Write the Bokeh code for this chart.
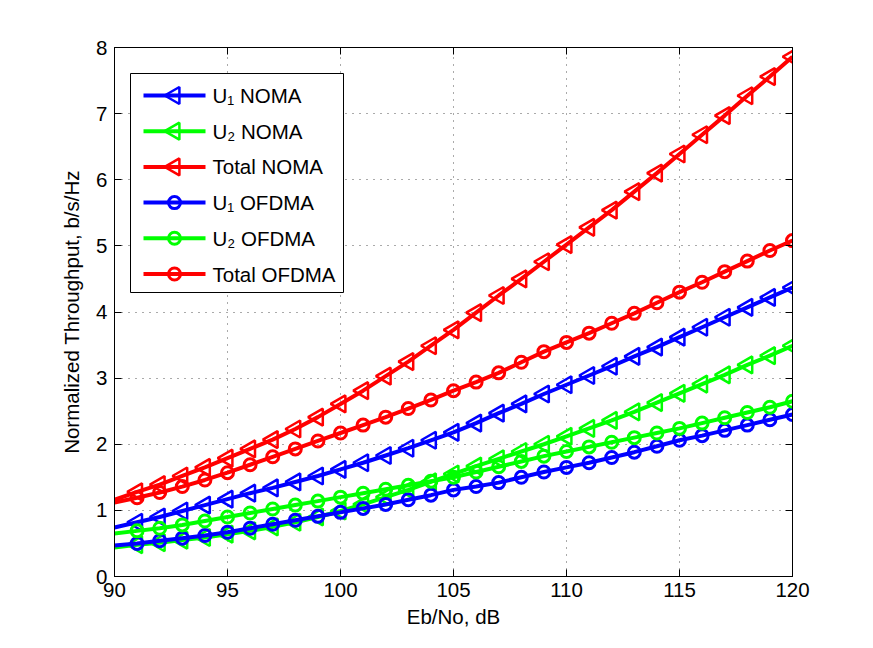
import numpy as np
from bokeh.plotting import figure
from bokeh.models import Range1d, LinearAxis, FixedTicker, BoxAnnotation, Label
from bokeh.embed import file_html
from bokeh.resources import INLINE

ebno = [90, 91, 92, 93, 94, 95, 96, 97, 98, 99, 100, 101, 102, 103, 104, 105,
        106, 107, 108, 109, 110, 111, 112, 113, 114, 115, 116, 117, 118, 119, 120]

u1_noma = [0.74, 0.82, 0.90, 0.99, 1.08, 1.17, 1.26, 1.34, 1.43, 1.52, 1.62,
           1.72, 1.83, 1.94, 2.06, 2.18, 2.32, 2.47, 2.61, 2.76, 2.90,
           3.04, 3.18, 3.33, 3.47, 3.62, 3.77, 3.92, 4.07, 4.22, 4.37]
u2_noma = [0.44, 0.48, 0.51, 0.55, 0.59, 0.64, 0.69, 0.75, 0.82, 0.90, 0.99,
           1.09, 1.20, 1.31, 1.43, 1.55, 1.67, 1.78, 1.89, 2.00, 2.12,
           2.24, 2.36, 2.49, 2.63, 2.77, 2.91, 3.05, 3.20, 3.34, 3.49]
total_noma = [1.16, 1.28, 1.39, 1.52, 1.65, 1.79, 1.93, 2.07, 2.23, 2.41, 2.61,
              2.81, 3.03, 3.25, 3.49, 3.73, 3.99, 4.25, 4.50, 4.76, 5.02,
              5.28, 5.54, 5.82, 6.10, 6.39, 6.68, 6.97, 7.27, 7.56, 7.86]
u1_ofdma = [0.47, 0.50, 0.54, 0.58, 0.62, 0.67, 0.73, 0.79, 0.85, 0.91, 0.97,
            1.03, 1.09, 1.16, 1.23, 1.31, 1.36, 1.42, 1.50, 1.58, 1.65,
            1.72, 1.80, 1.88, 1.97, 2.06, 2.13, 2.21, 2.29, 2.37, 2.45]
u2_ofdma = [0.65, 0.69, 0.73, 0.78, 0.84, 0.90, 0.96, 1.02, 1.08, 1.14, 1.20,
            1.26, 1.32, 1.38, 1.44, 1.50, 1.58, 1.66, 1.74, 1.82, 1.89,
            1.96, 2.03, 2.10, 2.17, 2.24, 2.32, 2.40, 2.48, 2.56, 2.65]
total_ofdma = [1.12, 1.19, 1.27, 1.36, 1.46, 1.57, 1.69, 1.81, 1.93, 2.05, 2.17,
               2.29, 2.41, 2.54, 2.67, 2.81, 2.94, 3.08, 3.24, 3.40, 3.54,
               3.68, 3.83, 3.98, 4.14, 4.30, 4.45, 4.61, 4.77, 4.93, 5.08]

labels = ["U\u2081 NOMA", "U\u2082 NOMA", "Total NOMA",
          "U\u2081 OFDMA", "U\u2082 OFDMA", "Total OFDMA"]
values = [u1_noma, u2_noma, total_noma, u1_ofdma, u2_ofdma, total_ofdma]
colors = ["#0000FF", "#00FF00", "#FF0000", "#0000FF", "#00FF00", "#FF0000"]
kinds = ["tri", "tri", "tri", "circ", "circ", "circ"]

x_ticks = [90, 95, 100, 105, 110, 115, 120]
y_ticks = [0, 1, 2, 3, 4, 5, 6, 7, 8]

FONT = "Liberation Sans"
FS = "20.5px"

W, H = 873, 648
BL, BR, BT, BB = 114, 81, 47, 72
X0, X1, Y0, Y1 = 90, 120, 0, 8

p = figure(width=W, height=H, x_range=Range1d(X0, X1), y_range=Range1d(Y0, Y1),
           output_backend="svg", toolbar_location=None,
           min_border_left=BL, min_border_right=BR, min_border_top=BT, min_border_bottom=BB)
p.background_fill_color = "white"
p.border_fill_color = "white"
p.outline_line_color = "black"
p.outline_line_width = 1

for ax in (p.xaxis[0], p.yaxis[0]):
    ax.major_tick_in = 7
    ax.major_tick_out = 0
    ax.minor_tick_line_color = None
    ax.axis_line_color = "black"
    ax.major_tick_line_color = "black"
    ax.major_label_text_font = FONT
    ax.major_label_text_font_size = FS
    ax.major_label_text_color = "black"
    ax.axis_label_text_font = FONT
    ax.axis_label_text_font_size = FS
    ax.axis_label_text_font_style = "normal"
    ax.axis_label_text_color = "black"

p.xaxis[0].major_label_standoff = 6
p.yaxis[0].major_label_standoff = 7
p.xaxis[0].ticker = FixedTicker(ticks=x_ticks)
p.yaxis[0].ticker = FixedTicker(ticks=y_ticks)
p.xaxis[0].axis_label = "Eb/No, dB"
p.yaxis[0].axis_label = "Normalized Throughput, b/s/Hz"
p.xaxis[0].axis_label_standoff = 5
p.yaxis[0].axis_label_standoff = 10

for loc, tk in (("right", y_ticks), ("above", x_ticks)):
    ax = LinearAxis(ticker=FixedTicker(ticks=tk))
    ax.major_tick_in = 7
    ax.major_tick_out = 0
    ax.minor_tick_line_color = None
    ax.major_label_text_font_size = "0px"
    ax.major_label_text_color = None
    ax.axis_line_color = "black"
    p.add_layout(ax, loc)

p.xgrid.ticker = FixedTicker(ticks=x_ticks)
p.ygrid.ticker = FixedTicker(ticks=y_ticks)
for g in (p.xgrid[0], p.ygrid[0]):
    g.grid_line_color = "#555555"
    g.grid_line_dash = "1 6"
    g.grid_line_width = 1

TRI = dict(marker="triangle", size=17, angle=np.pi / 2, fill_color=None, line_width=2.5)
CIRC = dict(marker="circle", size=12, fill_color=None, line_width=3)

for ys, color, kind in zip(values, colors, kinds):
    p.line(ebno, ys, line_color=color, line_width=4)
    style = TRI if kind == "tri" else CIRC
    p.scatter(ebno[1:], ys[1:], line_color=color, **style)

# ---- legend (drawn by hand so the triangles can point left) ----
fw = W - BL - BR
fh = H - BT - BB


def dx(px):
    return X0 + (px - BL) * (X1 - X0) / fw


def dy(py):
    return Y0 + (H - BB - py) * (Y1 - Y0) / fh


p.add_layout(BoxAnnotation(left=dx(130), right=dx(343), top=dy(73), bottom=dy(292),
                           fill_color="white", fill_alpha=1.0,
                           line_color="black", line_width=1, line_alpha=1.0,
                           level="annotation"))

for i, (lab, color, kind) in enumerate(zip(labels, colors, kinds)):
    yy = dy(95 + 35.7 * i)
    p.line([dx(143), dx(205)], [yy, yy], line_color=color, line_width=4, level="overlay")
    style = TRI if kind == "tri" else CIRC
    p.scatter([dx(174)], [yy], line_color=color, level="overlay", **style)
    p.add_layout(Label(x=dx(212), y=yy, text=lab, text_font=FONT, text_font_size=FS,
                       text_color="black", text_baseline="middle", text_align="left",
                       level="overlay"))

open("out.html", "w").write(file_html(p, INLINE))
